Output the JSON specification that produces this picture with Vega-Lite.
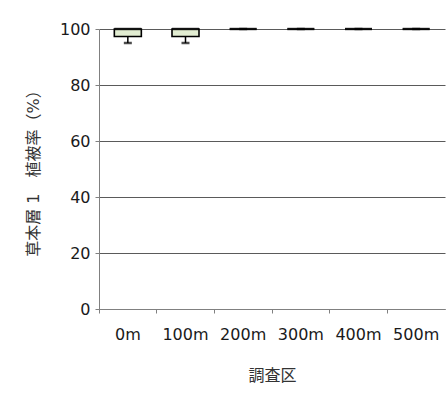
{
  "$schema": "https://vega.github.io/schema/vega-lite/v6.json",
  "width": 346,
  "height": 280,
  "padding": {"left": 99, "top": 29, "right": 1, "bottom": 85},
  "autosize": {"type": "none"},
  "background": "white",
  "config": {
    "view": {"stroke": null},
    "font": "DejaVu Sans, Noto Sans CJK JP",
    "axis": {
      "labelFont": "DejaVu Sans, Noto Sans CJK JP",
      "titleFont": "DejaVu Sans, Noto Sans CJK JP",
      "labelFontSize": 16,
      "titleFontSize": 16,
      "titleFontWeight": "normal",
      "labelColor": "#1a1a1a",
      "titleColor": "#333333",
      "domainColor": "#808080",
      "tickColor": "#808080"
    }
  },
  "data": {
    "values": [
      {"site": "0m", "min": 95, "q1": 97.3, "median": 100, "q3": 100, "max": 100},
      {"site": "100m", "min": 95, "q1": 97.3, "median": 100, "q3": 100, "max": 100},
      {"site": "200m", "min": 100, "q1": 100, "median": 100, "q3": 100, "max": 100},
      {"site": "300m", "min": 100, "q1": 100, "median": 100, "q3": 100, "max": 100},
      {"site": "400m", "min": 100, "q1": 100, "median": 100, "q3": 100, "max": 100},
      {"site": "500m", "min": 100, "q1": 100, "median": 100, "q3": 100, "max": 100}
    ]
  },
  "encoding": {
    "x": {
      "field": "site",
      "type": "nominal",
      "sort": null,
      "title": "調査区",
      "scale": {"paddingInner": 0, "paddingOuter": 0},
      "axis": {
        "labelAngle": 0,
        "bandPosition": 0,
        "tickSize": 4,
        "labelPadding": 13,
        "titlePadding": 25,
        "domainColor": "#808080",
        "grid": false
      }
    }
  },
  "layer": [
    {
      "mark": {"type": "rule", "color": "#000000", "strokeWidth": 1.5},
      "encoding": {
        "y": {
          "field": "min",
          "type": "quantitative",
          "scale": {"domain": [0, 100], "nice": false},
          "title": "草本層 1　植被率（%）",
          "axis": {
            "values": [0, 20, 40, 60, 80, 100],
            "tickSize": 4,
            "labelPadding": 5,
            "titlePadding": 18,
            "grid": true,
            "gridColor": "#5a5a5a",
            "gridWidth": 1,
            "gridOpacity": 1
          }
        },
        "y2": {"field": "q1"}
      }
    },
    {
      "mark": {"type": "tick", "color": "#000000", "size": 8, "thickness": 2.5, "orient": "horizontal"},
      "encoding": {
        "y": {"field": "min", "type": "quantitative"}
      }
    },
    {
      "mark": {"type": "bar", "fill": "#e2edd2", "stroke": "#000000", "strokeWidth": 1.6, "size": 27},
      "encoding": {
        "y": {"field": "q1", "type": "quantitative"},
        "y2": {"field": "q3"}
      }
    },
    {
      "mark": {"type": "tick", "color": "#000000", "size": 27, "thickness": 2.5, "orient": "horizontal"},
      "encoding": {
        "y": {"field": "median", "type": "quantitative"}
      }
    }
  ]
}
